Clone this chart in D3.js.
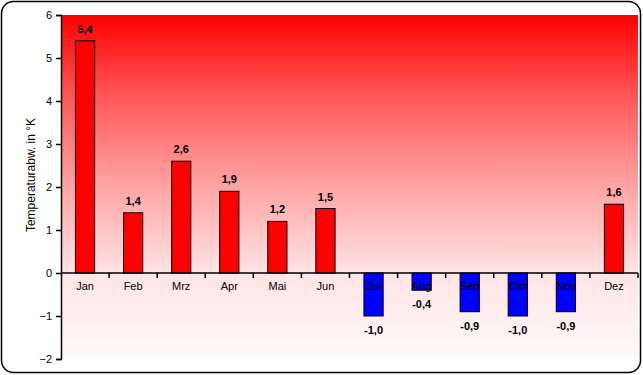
<!DOCTYPE html>
<html>
<head>
<meta charset="utf-8">
<script src="https://cdn.jsdelivr.net/npm/d3@7"></script>
<style>
  body { margin: 0; background: #fff; }
  text { font-family: "Liberation Sans", Arial, sans-serif; }
</style>
</head>
<body>
<div id="chart"></div>
<script>
// monthly temperature deviation
var months = ["Jan", "Feb", "Mrz", "Apr", "Mai", "Jun", "Jul", "Aug", "Sep", "Okt", "Nov", "Dez"];
var values = [5.4, 1.4, 2.6, 1.9, 1.2, 1.5, -1.0, -0.4, -0.9, -1.0, -0.9, 1.6];
var yTicks = [-2, -1, 0, 1, 2, 3, 4, 5, 6];
var yTitle = "Temperaturabw. in °K";

var width = 643, height = 375;
var margin = { top: 15, right: 5, bottom: 16, left: 61 };

var svg = d3.select('#chart').append('svg')
    .attr('width', width)
    .attr('height', height);

var defs = svg.append('defs');
var grad = defs.append('linearGradient')
    .attr('id', 'bg')
    .attr('x1', 0).attr('y1', 0).attr('x2', 0).attr('y2', 1);
grad.append('stop').attr('offset', '0%').attr('stop-color', '#ff0000');
grad.append('stop').attr('offset', '25%').attr('stop-color', '#ff5c5c');
grad.append('stop').attr('offset', '50%').attr('stop-color', '#ffa4a4');
grad.append('stop').attr('offset', '75%').attr('stop-color', '#ffe4e4');
grad.append('stop').attr('offset', '100%').attr('stop-color', '#fffafa');

// outer frame
svg.append('rect')
    .attr('x', 1.5).attr('y', 1.5)
    .attr('width', width - 4).attr('height', height - 4)
    .attr('rx', 12).attr('ry', 12)
    .style('fill', '#fff')
    .style('stroke', '#000')
    .style('stroke-width', 1.5);

var x = d3.scaleBand()
    .domain(months)
    .range([margin.left, width - margin.right])
    .paddingInner(0.6)
    .paddingOuter(0.3);

var y = d3.scaleLinear()
    .domain([-2, 6])
    .range([height - margin.bottom, margin.top]);

// plot background
svg.append('rect')
    .attr('x', margin.left)
    .attr('y', y(6))
    .attr('width', width - margin.right - margin.left)
    .attr('height', y(-2) - y(6))
    .style('fill', 'url(#bg)');

// bars
svg.selectAll('.bar')
    .data(values)
    .enter().append('rect')
    .attr('class', 'bar')
    .attr('x', function (d, i) { return x(months[i]); })
    .attr('y', function (d) { return y(Math.max(0, d)); })
    .attr('width', x.bandwidth())
    .attr('height', function (d) { return Math.abs(y(d) - y(0)); })
    .style('fill', function (d) { return d >= 0 ? '#ff0000' : '#0000ff'; })
    .style('stroke', '#000')
    .style('stroke-width', 1);

// y axis
var yAxis = svg.append('g')
    .attr('transform', 'translate(' + margin.left + ',0)')
    .call(d3.axisLeft(y).tickValues(yTicks).tickSize(5).tickPadding(4).tickFormat(d3.format('d')));
yAxis.select('.domain').style('stroke', '#000').style('stroke-width', 1.5);
yAxis.selectAll('.tick line').style('stroke', '#000').style('stroke-width', 1.5);
yAxis.selectAll('text').style('font-size', '11px').style('fill', '#000');

// x axis at zero, ticks between categories
var boundaries = d3.range(months.length + 1).map(function (i) {
    return margin.left + i * (width - margin.right - margin.left) / months.length;
});
svg.append('line')
    .attr('x1', margin.left).attr('x2', width - margin.right)
    .attr('y1', y(0)).attr('y2', y(0))
    .style('stroke', '#000').style('stroke-width', 1.5);
svg.selectAll('.xtick')
    .data(boundaries.slice(1))
    .enter().append('line')
    .attr('class', 'xtick')
    .attr('x1', function (d) { return d; }).attr('x2', function (d) { return d; })
    .attr('y1', y(0)).attr('y2', y(0) + 5)
    .style('stroke', '#000').style('stroke-width', 1.5);

svg.selectAll('.mlabel')
    .data(months)
    .enter().append('text')
    .attr('class', 'mlabel')
    .attr('x', function (d) { return x(d) + x.bandwidth() / 2; })
    .attr('y', y(0) + 17)
    .attr('text-anchor', 'middle')
    .style('font-size', '11px')
    .text(function (d) { return d; });

// value labels
var fmt = function (v) { return d3.format('.1f')(v).replace('.', ',').replace('−', '-'); };
svg.selectAll('.vlabel')
    .data(values)
    .enter().append('text')
    .attr('class', 'vlabel')
    .attr('x', function (d, i) { return x(months[i]) + x.bandwidth() / 2; })
    .attr('y', function (d) { return d >= 0 ? y(d) - 8 : y(d) + 18; })
    .attr('text-anchor', 'middle')
    .style('font-size', '11px')
    .style('font-weight', 'bold')
    .text(fmt);

// y title
svg.append('text')
    .attr('transform', 'translate(35,' + 175 + ') rotate(-90)')
    .attr('text-anchor', 'middle')
    .style('font-size', '12px')
    .text(yTitle);
</script>
</body>
</html>
